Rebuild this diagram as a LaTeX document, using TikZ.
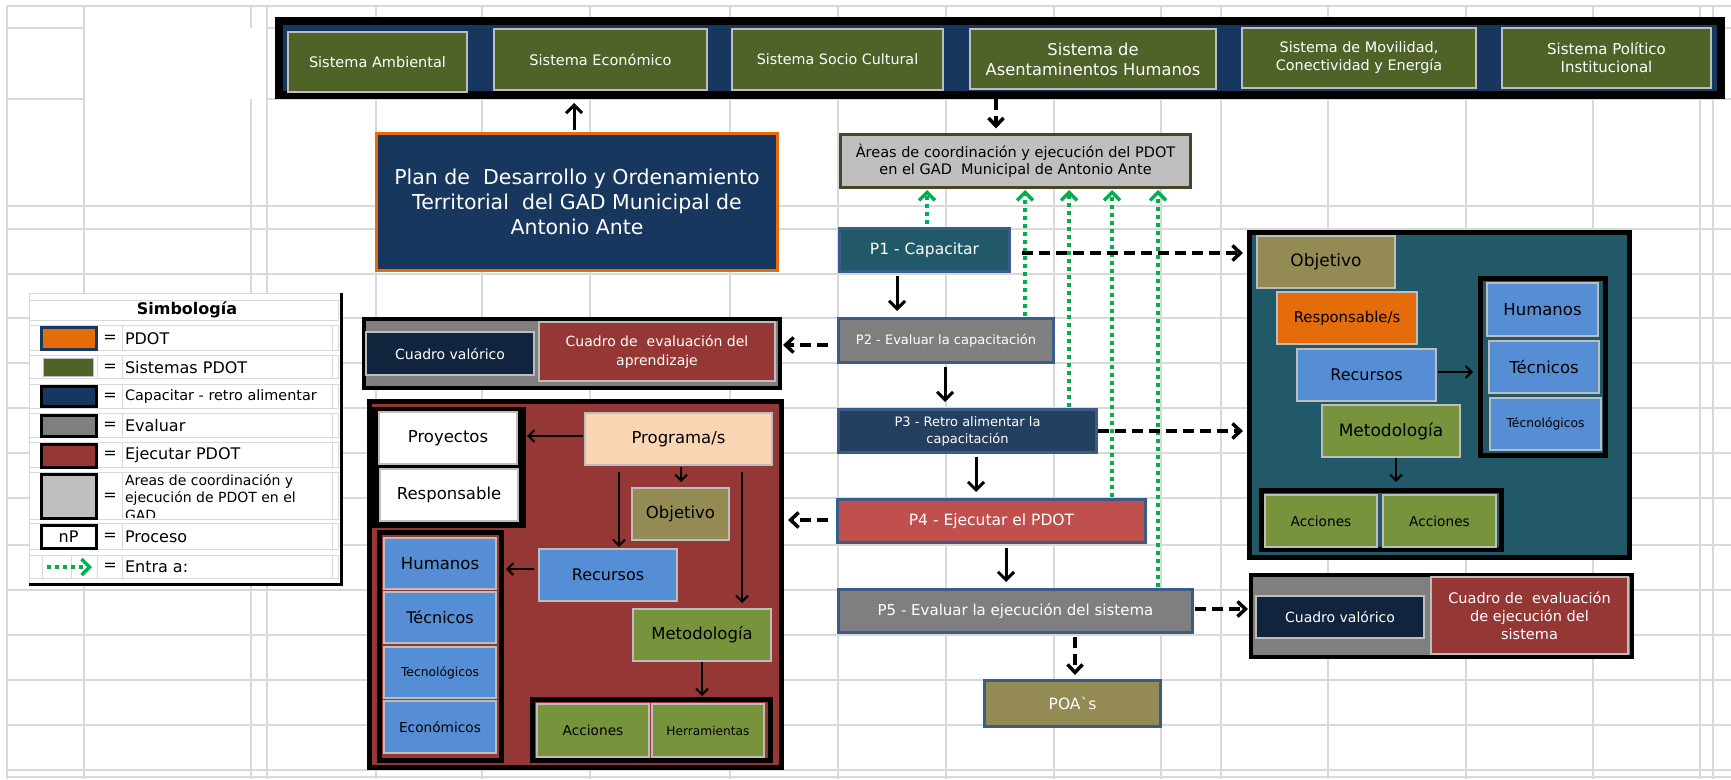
\documentclass[tikz,border=0pt]{standalone}
\usepackage{fontspec}
\setmainfont{DejaVu Sans}
\usetikzlibrary{arrows.meta,fit}
\newcommand\fs[2]{\fontsize{#1pt}{#2pt}\selectfont}
\newcommand\bx[7]{\node[#6,fit={(#2,#3) (#4,#5)}] (#1) {};
  \node[#6,draw=none,fill=none] (#1t) at (#1.center) {#7};}
\definecolor{cNavy}{HTML}{17375E}
\definecolor{cOlive}{HTML}{4F6228}
\definecolor{cTeal}{HTML}{215968}
\definecolor{cPB}{HTML}{385D8A}
\definecolor{cGray}{HTML}{7F7F7F}
\definecolor{cNavyP}{HTML}{243F60}
\definecolor{cRedP}{HTML}{C0504D}
\definecolor{cKhaki}{HTML}{948A54}
\definecolor{cMaroon}{HTML}{953735}
\definecolor{cDNavy}{HTML}{10243E}
\definecolor{cBlue}{HTML}{558ED5}
\definecolor{cGreen}{HTML}{77933C}
\definecolor{cPeach}{HTML}{FCD5B5}
\definecolor{cOrange}{HTML}{E46C0A}
\definecolor{cLGray}{HTML}{BFBFBF}
\definecolor{cDOlive}{HTML}{4A452A}
\definecolor{cGrid}{HTML}{D9D9D9}
\definecolor{cEntra}{HTML}{00B050}
\definecolor{cEdge}{HTML}{BDBDBD}
\begin{document}
\begin{tikzpicture}[x=1pt,y=-1pt,
  every node/.style={inner sep=0pt,outer sep=0pt,align=center},
  gridl/.style={draw=cGrid,line width=1.3pt},
  cell/.style={draw=cGrid,line width=1pt},
  sys/.style={fill=cOlive,draw=cEdge,line width=1.5pt,text=white},
  pbox/.style={draw=cPB,line width=3pt,text=white},
  ibox/.style={draw=cEdge,line width=1.5pt},
  frame/.style={draw=black,line width=5pt},
  solidarr/.style={draw=black,line width=3pt,-{Straight Barb[length=8pt,width=16pt]}},
  thinarr/.style={draw=black,line width=2pt,-{Straight Barb[length=6pt,width=12pt]}},
  dasharr/.style={draw=black,line width=3.5pt,dash pattern=on 11pt off 6pt,-{Straight Barb[length=8pt,width=15pt]}},
  greenarr/.style={draw=cEntra,line width=3.5pt,dash pattern=on 4pt off 4pt,-{Straight Barb[length=8pt,width=16pt]}},
  legtext/.style={anchor=west,font=\fs{16}{19}}
]
\useasboundingbox[fill=white] (0,0) rectangle (1731,779);
% ---------- spreadsheet grid ----------
\foreach \x in {7,84,267,376,482,590,730,838,946,1054,1161,1221,1328,1466,1593,1700,1713}
  \draw[gridl] (\x,6) -- (\x,779);
\draw[gridl] (251,6) -- (251,28);
\draw[gridl] (251,99) -- (251,779);
\foreach \y in {6,206,229,274,318,363,408,453,498,545,590,635,680,725,770,777}
  \draw[gridl] (7,\y) -- (1731,\y);
\foreach \y in {28,99} {
  \draw[gridl] (7,\y) -- (84,\y);
  \draw[gridl] (267,\y) -- (1731,\y);
}
% ---------- top: sistemas ----------
\bx{topframe}{279}{21}{1721}{95}{fill=cNavy,draw=black,line width=8pt}{}
\bx{s1}{288}{32}{467}{92}{sys,font=\fs{14.5}{18}}{Sistema Ambiental}
\bx{s2}{494}{29}{707}{90}{sys,font=\fs{14.5}{18}}{Sistema Económico}
\bx{s3}{732}{29}{943}{90}{sys,font=\fs{14.3}{18}}{Sistema Socio Cultural}
\bx{s4}{970}{29}{1216}{89}{sys,font=\fs{16.3}{20}}{Sistema de\\Asentaminentos Humanos}
\bx{s5}{1242}{28}{1476}{88}{sys,font=\fs{14.4}{18}}{Sistema de Movilidad,\\Conectividad y Energía}
\bx{s6}{1502}{28}{1711}{88}{sys,font=\fs{15}{18}}{Sistema Político\\Institucional}
% ---------- PDOT and areas ----------
\bx{pdot}{376.5}{133.5}{777.5}{270.5}{fill=cNavy,draw=cOrange,line width=3pt,text=white,font=\fs{20.5}{25}}{Plan de\ \ Desarrollo y Ordenamiento\\Territorial\ \ del GAD Municipal de\\Antonio Ante}
\bx{areas}{840.5}{134.5}{1190.5}{187.5}{fill=cLGray,draw=cDOlive,line width=3pt,font=\fs{14.5}{17.5}}{Àreas de coordinación y ejecución del PDOT\\en el GAD\ \ Municipal de Antonio Ante}
% ---------- process boxes ----------
\bx{P1}{839.5}{228.5}{1009.5}{271.5}{pbox,fill=cTeal,font=\fs{15.5}{18}}{P1 - Capacitar}
\bx{P2}{838.5}{318.5}{1053.5}{362.5}{pbox,fill=cGray,font=\fs{13}{16}}{P2 - Evaluar la capacitación}
\bx{P3}{838.5}{409.5}{1096.5}{452.5}{pbox,fill=cNavyP,font=\fs{13}{17}}{P3 - Retro alimentar la\\capacitación}
\bx{P4}{837.5}{499.5}{1145.5}{542.5}{pbox,fill=cRedP,font=\fs{15.5}{18}}{P4 - Ejecutar el PDOT}
\bx{P5}{838.5}{589.5}{1192.5}{632.5}{pbox,fill=cGray,font=\fs{15}{18}}{P5 - Evaluar la ejecución del sistema}
\bx{POA}{984.5}{680.5}{1160.5}{726.5}{pbox,fill=cKhaki,font=\fs{15.5}{18}}{POA\textasciigrave s}
% ---------- left evaluation frame ----------
\bx{evL}{364}{319}{780}{388}{fill=cGray,draw=black,line width=4pt}{}
\bx{cvL}{366}{332}{534}{375}{ibox,fill=cDNavy,text=white,font=\fs{14}{17}}{Cuadro valórico}
\bx{ceL}{539}{322}{775}{381}{ibox,fill=cMaroon,text=white,font=\fs{14}{19}}{Cuadro de\ \ evaluación del\\aprendizaje}
% ---------- left execution frame ----------
\bx{exL}{369.5}{401.5}{781.5}{767.5}{frame,fill=cMaroon}{}
\bx{prjFrame}{372}{407}{526}{528}{fill=black}{}
\bx{proy}{379}{412}{517}{464}{ibox,fill=white,font=\fs{16.5}{20}}{Proyectos}
\bx{resp}{380}{469}{518}{521}{ibox,fill=white,font=\fs{16.5}{20}}{Responsable}
\bx{recFrameL}{379.5}{532.5}{501.5}{760.5}{frame,fill=cMaroon}{}
\bx{humL}{384}{538}{496}{589}{ibox,fill=cBlue,font=\fs{16.5}{20}}{Humanos}
\bx{tecL}{384}{592}{496}{643}{ibox,fill=cBlue,font=\fs{16}{20}}{Técnicos}
\bx{tgL}{384}{647}{496}{698}{ibox,fill=cBlue,font=\fs{12.3}{15}}{Tecnológicos}
\bx{ecoL}{384}{701}{496}{753}{ibox,fill=cBlue,font=\fs{13.7}{16}}{Económicos}
\bx{prog}{585}{413}{772}{465}{ibox,fill=cPeach,font=\fs{16.5}{20}}{Programa/s}
\bx{objL}{632}{488}{729}{540}{ibox,fill=cKhaki,font=\fs{16.5}{20}}{Objetivo}
\bx{recL}{539}{549}{677}{601}{ibox,fill=cBlue,font=\fs{16}{20}}{Recursos}
\bx{metL}{633}{609}{771}{661}{ibox,fill=cGreen,font=\fs{16.5}{20}}{Metodología}
\bx{accFrameL}{532.5}{699.5}{770.5}{760.5}{frame,fill=cMaroon}{}
\bx{accL}{537}{704}{649}{757}{ibox,fill=cGreen,font=\fs{13.7}{16}}{Acciones}
\bx{herL}{652}{704}{764}{757}{ibox,fill=cGreen,font=\fs{12.2}{15}}{Herramientas}
% ---------- right training frame ----------
\bx{exR}{1249.5}{232.5}{1629.5}{557.5}{frame,fill=cTeal}{}
\bx{objR}{1257}{236}{1395}{288}{ibox,fill=cKhaki,font=\fs{17}{20}}{Objetivo}
\bx{respR}{1277}{292}{1417}{344}{ibox,fill=cOrange,font=\fs{14.8}{18}}{Responsable/s}
\bx{recR}{1297}{349}{1436}{401}{ibox,fill=cBlue,font=\fs{16}{20}}{Recursos}
\bx{metR}{1322}{405}{1460}{457}{ibox,fill=cGreen,font=\fs{17}{20}}{Metodología}
\bx{recFrameR}{1480.5}{278.5}{1605.5}{455.5}{frame,fill=cTeal}{}
\bx{humR}{1487}{283}{1598}{336}{ibox,fill=cBlue,font=\fs{16.5}{20}}{Humanos}
\bx{tecR}{1489}{341}{1599}{393}{ibox,fill=cBlue,font=\fs{16.5}{20}}{Técnicos}
\bx{tgR}{1490}{398}{1601}{450}{ibox,fill=cBlue,font=\fs{12.3}{15}}{Técnológicos}
\bx{accFrameR}{1261.5}{490.5}{1501.5}{549.5}{frame,fill=cTeal}{}
\bx{accR1}{1265}{495}{1377}{547}{ibox,fill=cGreen,font=\fs{13.7}{16}}{Acciones}
\bx{accR2}{1383}{495}{1496}{547}{ibox,fill=cGreen,font=\fs{13.7}{16}}{Acciones}
% ---------- right evaluation frame ----------
\bx{evR}{1251}{575}{1632}{657}{fill=cGray,draw=black,line width=4pt}{}
\bx{cvR}{1256}{596}{1424}{638}{ibox,fill=cDNavy,text=white,font=\fs{14}{17}}{Cuadro valórico}
\bx{ceR}{1431}{577}{1628}{654}{ibox,fill=cMaroon,text=white,font=\fs{14.5}{18}}{Cuadro de\ \ evaluación\\de ejecución del\\sistema}
% ---------- helper coordinates ----------
\coordinate (kA) at (574,0);
\coordinate (kB) at (996,0);
\coordinate (k1) at (897,0);
\coordinate (k2) at (945,0);
\coordinate (k3) at (976,0);
\coordinate (k4) at (1006,0);
\coordinate (k5) at (1075,0);
\coordinate (g1) at (927,0);
\coordinate (g2) at (1025,0);
\coordinate (g3) at (1069,0);
\coordinate (g4) at (1112,0);
\coordinate (g5) at (1158,0);
\coordinate (h1) at (0,253);
\coordinate (h2) at (0,345);
\coordinate (h3) at (0,431);
\coordinate (h4) at (0,520);
\coordinate (h5) at (0,609);
\coordinate (i1) at (0,436);
\coordinate (i2) at (681,0);
\coordinate (i3) at (619,0);
\coordinate (i4) at (742,0);
\coordinate (i5) at (0,569);
\coordinate (i6) at (702,0);
\coordinate (j1) at (0,372);
\coordinate (j2) at (1396,0);
% ---------- green "entra a" arrows ----------
\draw[greenarr,shorten <=5pt,shorten >=2.5pt] (P1.north -| g1) -- (areas.south -| g1);
\draw[greenarr,shorten <=3pt,shorten >=2.5pt] (P2.north -| g2) -- (areas.south -| g2);
\draw[greenarr,shorten <=3pt,shorten >=2.5pt] (P3.north -| g3) -- (areas.south -| g3);
\draw[greenarr,shorten <=3pt,shorten >=2.5pt] (P4.north -| g4) -- (areas.south -| g4);
\draw[greenarr,shorten <=3pt,shorten >=2.5pt] (P5.north -| g5) -- (areas.south -| g5);
% ---------- main arrows ----------
\draw[solidarr,shorten <=4pt,shorten >=8pt] (pdot.north -| kA) -- (topframe.south -| kA);
\draw[dasharr,shorten <=4pt,shorten >=6pt] (topframe.south -| kB) -- (areas.north -| kB);
\draw[solidarr,shorten <=4.5pt,shorten >=7.5pt] (P1.south -| k1) -- (P2.north -| k1);
\draw[solidarr,shorten <=4.5pt,shorten >=7.5pt] (P2.south -| k2) -- (P3.north -| k2);
\draw[solidarr,shorten <=4.5pt,shorten >=7.5pt] (P3.south -| k3) -- (P4.north -| k3);
\draw[solidarr,shorten <=5.5pt,shorten >=7.5pt] (P4.south -| k4) -- (P5.north -| k4);
\draw[dasharr,shorten <=4.5pt,shorten >=5.5pt] (P5.south -| k5) -- (POA.north -| k5);
\draw[dasharr,shorten <=12.5pt,shorten >=6.5pt] (P1.east |- h1) -- (exR.west |- h1);
\draw[dasharr,shorten <=1.5pt,shorten >=6.5pt] (P3.east |- h3) -- (exR.west |- h3);
\draw[dasharr,shorten <=10.5pt,shorten >=3pt] (P2.west |- h2) -- (evL.east |- h2);
\draw[dasharr,shorten <=9.5pt,shorten >=6.5pt] (P4.west |- h4) -- (exL.east |- h4);
\draw[dasharr,shorten <=2.5pt,shorten >=3pt] (P5.east |- h5) -- (evR.west |- h5);
% ---------- inner arrows ----------
\draw[thinarr,shorten <=2pt,shorten >=1pt] (prog.west |- i1) -- (prjFrame.east |- i1);
\draw[thinarr,shorten <=2pt,shorten >=6pt] (prog.south -| i2) -- (objL.north -| i2);
\draw[thinarr,shorten <=7pt,shorten >=2pt] (prog.south -| i3) -- (recL.north -| i3);
\draw[thinarr,shorten <=7pt,shorten >=6pt] (prog.south -| i4) -- (metL.north -| i4);
\draw[thinarr,shorten <=5pt,shorten >=4.5pt] (recL.west |- i5) -- (recFrameL.east |- i5);
\draw[thinarr,shorten <=1pt,shorten >=3.5pt] (metL.south -| i6) -- (accFrameL.north -| i6);
\draw[thinarr,shorten <=2pt,shorten >=7.5pt] (recR.east |- j1) -- (recFrameR.west |- j1);
\draw[thinarr,shorten <=1pt,shorten >=8.5pt] (metR.south -| j2) -- (accFrameR.north -| j2);
% ---------- legend ----------
\node[draw=cGrid,fill=white,line width=1pt,fit={(29,293) (341,584)}] (leg) {};
\draw[line width=3pt] (leg.north east) -- (leg.south east) -- (leg.south west);
\draw[cell] (29,300) rectangle (338,320);
\foreach \t/\b in {325/350,355/378,384/408,413/437,442/467,472/519,523/549,555/578} {
  \draw[cell] (29,\t) rectangle (338,\b);
  \draw[cell] (97,\t) -- (97,\b);
  \draw[cell] (122,\t) -- (122,\b);
  \draw[cell] (332,\t) -- (332,\b);
}
\draw[cell] (42,555) -- (42,578);
\draw[cell] (71,555) -- (71,578);
\node[font=\bfseries\fs{16}{19}] (legT) at (187,310) {Simbología};
\bx{sw1}{41}{327}{96}{349}{fill=cOrange,draw=cNavy,line width=3pt}{}
\bx{sw2}{43}{358}{93}{376}{fill=cOlive,draw=cEdge,line width=1pt}{}
\bx{sw3}{41}{386}{96}{406}{fill=cNavy,draw=black,line width=3pt}{}
\bx{sw4}{41}{415}{96}{436}{fill=cGray,draw=black,line width=3pt}{}
\bx{sw5}{41}{444}{96}{467}{fill=cMaroon,draw=black,line width=3pt}{}
\bx{sw6}{41}{474}{96}{518}{fill=cLGray,draw=black,line width=3pt}{}
\bx{sw7}{41}{525}{96}{548}{fill=white,draw=black,line width=3pt,font=\fs{16}{19}}{nP}
\coordinate (ga) at (47,567);
\coordinate (gb) at (92,567);
\draw[greenarr] (ga) -- (gb);
\foreach \n/\y in {1/339,2/368,3/397,4/426,5/455,6/497,7/537,8/567}
  \node[font=\fs{16}{19}] (eq\n) at (110,\y) {=};
\node[legtext] (t1) at (125,339) {PDOT};
\node[legtext] (t2) at (125,368) {Sistemas PDOT};
\node[legtext,font=\fs{14.4}{17}] (t3) at (125,397) {Capacitar - retro alimentar};
\node[legtext] (t4) at (125,426) {Evaluar};
\node[legtext] (t5) at (125,455) {Ejecutar PDOT};
\begin{scope}
  \clip (122,472) rectangle (332,517);
  \node[legtext,align=left,font=\fs{14}{17.5}] (t6) at (125,497) {Areas de coordinación y\\ejecución de PDOT en el\\GAD};
\end{scope}
\node[legtext] (t7) at (125,537) {Proceso};
\node[legtext] (t8) at (125,567) {Entra a:};
\end{tikzpicture}
\end{document}
